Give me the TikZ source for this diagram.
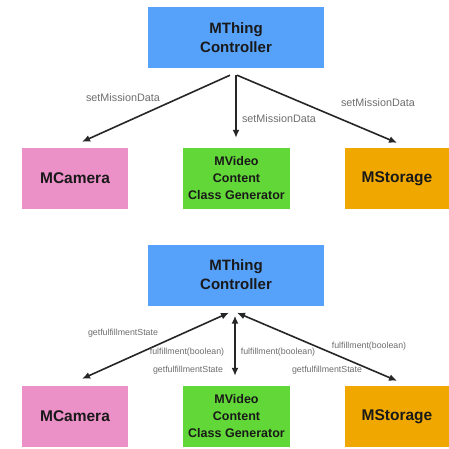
\documentclass[tikz,border=0pt]{standalone}
\usepackage{fontspec}
\setmainfont{Liberation Sans}
\usetikzlibrary{arrows.meta,calc}
\definecolor{cblue}{RGB}{86,161,250}
\definecolor{cpink}{RGB}{236,144,200}
\definecolor{cgreen}{RGB}{98,216,56}
\definecolor{corange}{RGB}{240,168,0}
\definecolor{labgray}{RGB}{110,110,110}
\begin{document}
\begin{tikzpicture}[x=1pt,y=-1pt,
  box/.style={rectangle, inner sep=0pt, align=center, font=\bfseries\fontsize{15}{19}\selectfont, text=black!90},
  ctrlbox/.style={box, fill=cblue, minimum width=176pt, minimum height=61pt},
  cambox/.style={box, fill=cpink, minimum width=106pt, minimum height=61pt, font=\bfseries\fontsize{15.5}{19}\selectfont},
  vidbox/.style={box, fill=cgreen, minimum width=107pt, minimum height=61pt, font=\bfseries\fontsize{12.5}{17}\selectfont},
  stobox/.style={box, fill=corange, minimum width=104pt, minimum height=61pt, font=\bfseries\fontsize{15.5}{19}\selectfont},
  tip/.tip={Latex[length=8pt,width=7pt]},
  conn/.style={line width=1.6pt, black!85, -tip},
  biconn/.style={line width=1.6pt, black!85, tip-tip},
  lab/.style={inner sep=0pt, text=labgray, font=\fontsize{10.8}{13}\selectfont},
  slab/.style={inner sep=0pt, text=labgray, font=\fontsize{8.8}{10}\selectfont}
]
\path[use as bounding box, fill=white] (0,0) rectangle (449,448);

% ---------- top diagram ----------
\node[ctrlbox] (ctrlA) at (236,37.5) {MThing\\Controller};
\node[cambox] (camA) at (75,178.5) {MCamera};
\node[vidbox] (vidA) at (236.5,178.5) {MVideo\\Content\\Class Generator};
\node[stobox] (stoA) at (397,178.5) {MStorage};

\draw[conn] ($(ctrlA.south)+(-6,7)$) -- ($(camA.north)+(7,-6)$);
\draw[conn] ($(ctrlA.south)+(0,7)$) -- ($(vidA.north)+(-0.5,-10)$);
\draw[conn] ($(ctrlA.south)+(1,7)$) -- ($(stoA.north)+(0,-5)$);

\node[lab] (lA1) at (123,98) {setMissionData};
\node[lab] (lA2) at (279,118.5) {setMissionData};
\node[lab] (lA3) at (378,102.5) {setMissionData};

% ---------- bottom diagram ----------
\node[ctrlbox] (ctrlB) at (236,275) {MThing\\Controller};
\node[cambox] (camB) at (75,416.5) {MCamera};
\node[vidbox] (vidB) at (236.5,416.5) {MVideo\\Content\\Class Generator};
\node[stobox] (stoB) at (397,416.5) {MStorage};

\draw[biconn] ($(ctrlB.south)+(-7,7)$) -- ($(camB.north)+(7,-7)$);
\draw[biconn] ($(ctrlB.south)+(-1,10)$) -- ($(vidB.north)+(-1.5,-10)$);
\draw[biconn] ($(ctrlB.south)+(1,7)$) -- ($(stoB.north)+(0,-5)$);

\node[slab] (lB1) at (123,333) {getfulfillmentState};
\node[slab] (lB2) at (187,352) {fulfillment(boolean)};
\node[slab] (lB3) at (188,370) {getfulfillmentState};
\node[slab] (lB4) at (278,352) {fulfillment(boolean)};
\node[slab] (lB5) at (369,346) {fulfillment(boolean)};
\node[slab] (lB6) at (327,370) {getfulfillmentState};
\end{tikzpicture}
\end{document}
